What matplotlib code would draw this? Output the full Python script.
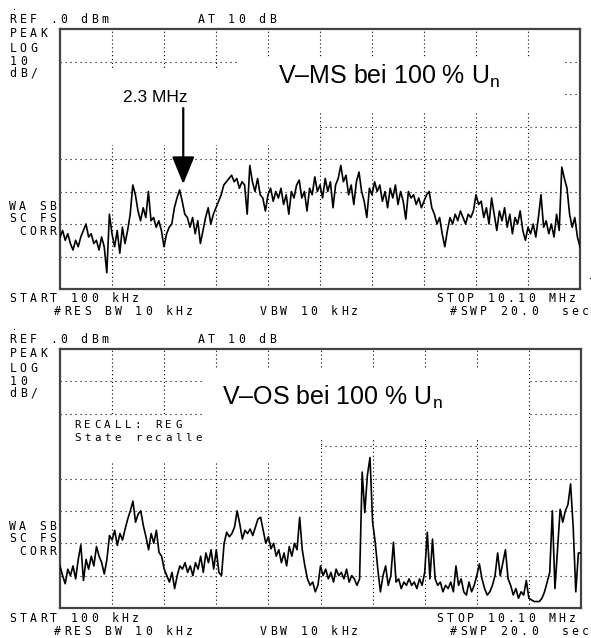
import numpy as np
import matplotlib
matplotlib.use('Agg')
import matplotlib.pyplot as plt
from matplotlib.patches import Rectangle

plt.rcParams['mathtext.fontset'] = 'custom'
plt.rcParams['mathtext.rm'] = 'Liberation Sans'

W, H = 591, 638

# upper trace (V-MS), dBm, one value every 0.05 MHz from 0.1 to 10.1 MHz
ms_db = [-64, -62, -65, -63, -66, -68, -65, -67, -64, -62,
         -60, -64, -63, -66, -65, -68, -64, -67, -75, -57,
         -63, -67, -62, -69, -61, -66, -62, -57, -48, -51,
         -56, -59, -55, -58, -50, -59, -58, -61, -59, -62,
         -67, -63, -61, -60, -55, -52, -49.5, -53, -57, -58,
         -61, -58, -63, -59, -66, -62, -58, -55, -60, -57,
         -55, -53, -51, -48, -47, -46, -45, -47, -46, -49,
         -47, -48, -57, -42, -47, -50, -46, -51, -52, -56,
         -51, -49, -53, -50, -52, -49, -54, -51, -57, -50,
         -52, -48, -46.5, -52, -50, -56, -49, -51, -45.5, -50,
         -48, -52, -46, -50, -47, -55, -48, -46, -42, -47,
         -45, -51, -48, -54, -47, -44, -50, -53, -58, -49,
         -51, -47, -50, -48, -53, -50, -55, -49, -52, -48,
         -54, -50, -53, -58.5, -50, -52, -51, -54, -52, -55,
         -53, -51, -50, -55, -57, -60, -58, -63, -67, -62,
         -58, -60, -57, -59, -56, -58, -60, -57, -58, -56,
         -51, -54, -53, -58, -55, -60, -52, -57, -62, -56,
         -59, -55, -61, -57, -63, -58, -60, -56, -62, -65,
         -61, -63, -60, -64, -58, -51, -61, -59, -63, -60,
         -64, -57, -62, -42.5, -46, -49, -57, -61, -58, -64,
         -67]

# lower trace (V-OS)
os_db = [-67, -70, -72.5, -68, -70, -67, -71, -65, -60.5, -71.5,
         -65, -68, -64, -67, -61, -64, -66, -69.5, -65, -57.6,
         -59, -56, -60.7, -57, -59, -55.6, -52.5, -50, -47, -53.5,
         -51, -50, -54.6, -58, -62, -57, -60, -56, -62.8, -64,
         -68, -70, -72, -69, -74, -70, -67, -68, -66, -69,
         -67, -70, -66, -68, -64, -69, -63, -66, -62, -68,
         -62, -69, -70, -60, -56.6, -58, -57, -55, -50, -54,
         -58.7, -56, -57, -55.6, -57.6, -55, -52.5, -52, -56, -60,
         -58, -61.7, -60, -64, -62, -66, -63, -67, -61, -64,
         -60, -62, -52, -62, -67, -71, -73, -72, -75, -73,
         -67, -70, -68, -71, -69, -72, -68, -70, -69, -71,
         -68, -72, -70, -71, -73, -71, -38, -50.5, -39, -33.5,
         -53.5, -59.7, -68, -75, -70, -67, -73, -70, -59.7, -72,
         -71, -74, -72, -73, -71, -73, -72, -74, -71, -73,
         -69, -56.6, -71, -58.7, -71, -73, -72, -75, -73, -74,
         -72, -75, -67, -73, -71, -75, -76, -72, -75, -73,
         -70, -66.4, -71, -74, -76, -75, -73, -70, -63, -70,
         -66, -62, -71, -73, -76, -74, -77, -75, -76, -71.5,
         -77, -77.5, -78, -78, -78, -77, -75, -72, -69, -50,
         -74, -62, -49.5, -53.5, -50, -48, -41.7, -55, -75, -63,
         -63]

f_start, f_stop = 0.1, 10.1
ref_db, db_div = 0, 10

PITCH = 10.15


def mono(x, y, s, size=8.3):
    for i, ch in enumerate(s):
        if ch != ' ':
            fig.text((x + (i + 0.5) * PITCH) / W, 1 - y / H, ch, ha='center',
                     va='baseline', family='DejaVu Sans Mono', fontsize=size)


def header(dy):
    fig.text(14 / W, 1 - (8 + dy) / H, '.', ha='center', va='center',
             family='DejaVu Sans Mono', fontsize=6)
    mono(8, 23 + dy, 'REF .0 dBm')
    mono(196, 23 + dy, 'AT 10 dB')
    mono(8, 37 + dy, 'PEAK')
    mono(8, 52 + dy, 'LOG')
    mono(8, 65 + dy, '10')
    mono(8, 77 + dy, 'dB/')
    mono(58 - 5 * PITCH, 210 + dy, 'WA SB')
    mono(58 - 5 * PITCH, 222 + dy, 'SC FS')
    mono(58 - 4 * PITCH, 235 + dy, 'CORR')
    mono(8, 302 + dy, 'START 100 kHz')
    mono(52, 315 + dy, '#RES BW 10 kHz')
    mono(258, 315 + dy, 'VBW 10 kHz')
    mono(435, 302 + dy, 'STOP 10.10 MHz')
    mono(448, 315 + dy, '#SWP 20.0  sec')


def panel(ax, vals, blanks):
    freq = np.linspace(f_start, f_stop, len(vals))
    ax.set_xlim(f_start, f_stop)
    ax.set_ylim(ref_db - 8 * db_div, ref_db)
    for k in range(1, 8):
        ax.axhline(ref_db - k * db_div, color='black', lw=0.8,
                   ls=(0, (1, 3.5)), zorder=1)
    for k in range(1, 10):
        ax.axvline(f_start + k, color='black', lw=0.8,
                   ls=(0, (1, 2.5)), zorder=1)
    for (x0, y0, x1, y1) in blanks:
        ax.add_patch(Rectangle((x0, y0), x1 - x0, y1 - y0, transform=ax.transAxes,
                               facecolor='white', edgecolor='none', zorder=2))
    ax.plot(freq, vals, color='black', lw=1.2, zorder=3)
    ax.set_xticks([])
    ax.set_yticks([])
    for s in ax.spines.values():
        s.set_color('#444444')
        s.set_linewidth(1.6)


fig = plt.figure(figsize=(W / 100, H / 100), dpi=100)
ax1 = fig.add_axes([60 / W, 1 - 289 / H, 520 / W, 260 / H])
ax2 = fig.add_axes([60 / W, 1 - 608 / H, 521 / W, 259 / H])

panel(ax1, ms_db, [(0, 0.554, 0.50, 0.842), (0.343, 0.681, 0.969, 0.892)])
panel(ax2, os_db, [(0, 0.564, 0.50, 0.741), (0.276, 0.649, 0.896, 0.919)])

header(0)
header(320)
fig.text(590 / W, 1 - 279 / H, '.', ha='center', va='baseline',
         family='DejaVu Sans Mono', fontsize=6)
mono(72, 428, 'RECALL: REG', size=7.8)
mono(72, 441, 'State recalle', size=7.8)

fig.text(278 / W, 1 - 83.5 / H, r'V–MS bei 100 % U$_{\mathregular{n}}$',
         family='Liberation Sans', fontsize=18, va='baseline')
fig.text(222 / W, 1 - 405 / H, r'V–OS bei 100 % U$_{\mathregular{n}}$',
         family='Liberation Sans', fontsize=18, va='baseline')
fig.text(123 / W, 1 - 101.5 / H, '2.3 MHz', family='Liberation Sans',
         fontsize=12.5, va='baseline')
ax1.annotate('', xy=(0.237, 0.404), xytext=(0.237, 0.696),
             xycoords='axes fraction', textcoords='axes fraction',
             arrowprops=dict(arrowstyle='-|>,head_length=1.7,head_width=0.7',
                             color='black', lw=1.6, shrinkA=0, shrinkB=0),
             zorder=5)

fig.savefig('out.png', dpi=100)
